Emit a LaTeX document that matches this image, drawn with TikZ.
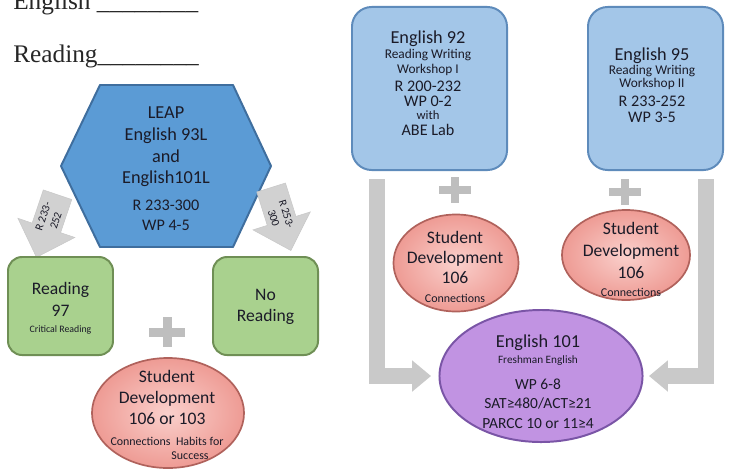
\documentclass[tikz,border=0pt]{standalone}
\usepackage{fontspec}
\setmainfont{Carlito}
\newfontfamily\headfont{Liberation Serif}
\usepackage{tikz}
\usetikzlibrary{shapes.geometric, arrows.meta, calc}
\definecolor{hexfill}{HTML}{5B9BD5}
\definecolor{hexdraw}{HTML}{3F6E9E}
\definecolor{boxfill}{HTML}{A3C6E8}
\definecolor{boxdraw}{HTML}{5E8BBB}
\definecolor{greenfill}{HTML}{A9D18E}
\definecolor{greendraw}{HTML}{6F8F55}
\definecolor{pinkin}{HTML}{FAD0CC}
\definecolor{pinkout}{HTML}{EE9B94}
\definecolor{pinkdraw}{HTML}{B0625C}
\definecolor{purplefill}{HTML}{C193E2}
\definecolor{purpledraw}{HTML}{7A55A6}
\definecolor{flowgray}{HTML}{C9C9C9}
\definecolor{plusgray}{HTML}{BEBEBE}
\definecolor{ink}{HTML}{1B1B28}
\newcommand\setfs[2]{\fontsize{#1}{#2}\selectfont\lineskiplimit=-20pt\relax}
\tikzset{
    hexagon/.style={fill=hexfill, draw=hexdraw, line width=1.4pt, line join=round},
    bluebox/.style={rectangle, rounded corners=14pt, fill=boxfill, draw=boxdraw, line width=1.4pt, minimum width=3.875cm, minimum height=4.075cm},
    greenbox/.style={rectangle, rounded corners=10pt, fill=greenfill, draw=greendraw, line width=1.4pt, minimum width=2.625cm, minimum height=2.45cm},
    pinkoval/.style={ellipse, shading=radial, inner color=pinkin, outer color=pinkout, draw=pinkdraw, line width=1.2pt, inner sep=0pt},
    purpleoval/.style={ellipse, fill=purplefill, draw=purpledraw, line width=1.4pt, inner sep=0pt, minimum width=5.075cm, minimum height=3.3cm},
    lines/.style={align=center, inner sep=0pt, text=ink},
    headtext/.style={inner sep=0pt, text=black!85, font=\headfont\fontsize{18}{20}\selectfont},
    blockarrow/.style={fill=flowgray!85, draw=flowgray, line width=0.4pt},
    arrowtext/.style={align=center, inner sep=0pt, text=ink, font=\setfs{8}{9.5}},
    grayflow/.style={draw=flowgray, line width=10.7pt, -{Triangle[width=21.5pt,length=13.5pt]}},
    plusbar/.style={fill=plusgray}
}
\begin{document}
\begin{tikzpicture}[x=0.025cm, y=-0.025cm]
        \useasboundingbox (0,0) rectangle (729,469);
        \clip (0,0) rectangle (729,469);

                    \node[headtext, anchor=base west] (english) at (13,9) {English \_\_\_\_\_\_\_\_};
                    \node[headtext, anchor=base west] (reading) at (13,62) {Reading\_\_\_\_\_\_\_\_};

                    \draw[hexagon] (100,85) -- (233,85) -- (271,166) -- (233,247) -- (100,247) -- (61,166) -- cycle;
                    \node[lines, font=\setfs{13}{15.4}] (leap) at (166,169) {LEAP\\English 93L\\and\\English101L\\[3.8pt]{\setfs{11.5}{13}R 233-300}\\[-1.2pt]{\setfs{11.5}{13}WP 4-5}};

                    \begin{scope}[shift={(47,226)}, rotate=71.4]
                        \path[blockarrow] (33,-15) -- (-2,-15) -- (-2,-30) -- (-33,0) -- (-2,30) -- (-2,15) -- (33,15) -- cycle;
                        \node[arrowtext, rotate=71.4] (lowpath) at (8,0) {R 233-\\252};
                    \end{scope}
                    \begin{scope}[shift={(281,219)}, rotate=-72.6]
                        \path[blockarrow] (-33,-15) -- (2,-15) -- (2,-30) -- (33,0) -- (2,30) -- (2,15) -- (-33,15) -- cycle;
                        \node[arrowtext, rotate=-72.6] (highpath) at (-3,0) {R 253-\\300};
                    \end{scope}

                    \node[greenbox] (rd97) at (60.5,306) {};
                    \node[lines, font=\setfs{12.5}{15.6}] (rd97t) at (60.5,308) {Reading\\97\\[-4.2pt]{\setfs{7}{8}Critical Reading}};
                    \node[greenbox] (nord) at (265.5,306) {};
                    \node[lines, font=\setfs{12.5}{15}] (nordt) at (265.5,307) {No\\Reading};

                    \fill[plusbar] (167,332) ++(-18,-4.5) rectangle ++(36,9);
                    \fill[plusbar] (167,332) ++(-4.5,-15) rectangle ++(9,30);

                    \node[pinkoval, minimum width=3.8cm, minimum height=2.75cm] (sd1) at (168,413) {};
                    \node[lines, font=\setfs{12.5}{15}] (sd1t) at (167,415) {Student\\Development\\106 or 103\\{\setfs{8.5}{9}Connections\ \ Habits for}\\[-4.8pt]{\setfs{8.5}{9}\hspace*{32.8pt}Success}};

                    \node[bluebox] (e92) at (429.5,88.5) {};
                    \node[lines, font=\setfs{11.5}{10.9}] (e92t) at (428,83) {{\setfs{13}{14}English 92}\\{\setfs{9.5}{10}Reading Writing}\\[-0.7pt]{\setfs{9.5}{10}Workshop I}\\[2.1pt]R 200-232\\WP 0-2\\[-1.5pt]{\setfs{9}{10}with}\\ABE Lab};
                    \node[bluebox, minimum width=3.375cm] (e95) at (655.5,88.5) {};
                    \node[lines, font=\setfs{11.5}{11.4}] (e95t) at (652,85.5) {{\setfs{13}{14}English 95}\\[-1.6pt]{\setfs{9.5}{10}Reading Writing}\\[-2.3pt]{\setfs{9.5}{10}Workshop II}\\[2.4pt]R 233-252\\WP 3-5};

                    \fill[plusbar] (455,190) ++(-16,-4) rectangle ++(32,8);
                    \fill[plusbar] (455,190) ++(-4,-13) rectangle ++(8,26);
                    \fill[plusbar] (625,192) ++(-16,-4) rectangle ++(32,8);
                    \fill[plusbar] (625,192) ++(-4,-13) rectangle ++(8,26);

                    \node[pinkoval, minimum width=3.125cm, minimum height=2.425cm] (sd2) at (456,263) {};
                    \node[lines, font=\setfs{12.5}{14.2}] (sd2t) at (455,267) {Student\\Development\\106\\[-0.7pt]{\setfs{8.5}{9}Connections}};
                    \node[pinkoval, minimum width=3.2cm, minimum height=2.25cm] (sd3) at (626,255) {};
                    \node[lines, font=\setfs{12.5}{15.6}] (sd3t) at (631,259) {Student\\Development\\106\\[-2.8pt]{\setfs{8.5}{9}Connections}};

                    \node[purpleoval] (e101) at (541,376) {};
                    \node[lines, font=\setfs{11}{14}] (e101t) at (538,381.5) {{\setfs{13}{14}English 101}\\[-2.6pt]{\setfs{8}{9}Freshman English}\\[4.5pt]WP 6-8\\[-0.5pt]SAT≥480/ACT≥21\\PARCC 10 or 11≥4};

                    \draw[grayflow, shorten >=5.3pt] ($(e92.south west)+(26,8)$) |- (e101.west);
                    \draw[grayflow, shorten >=3.9pt] ($(e95.south east)+(-18,8)$) |- (e101.east);

                \end{tikzpicture}
\end{document}
